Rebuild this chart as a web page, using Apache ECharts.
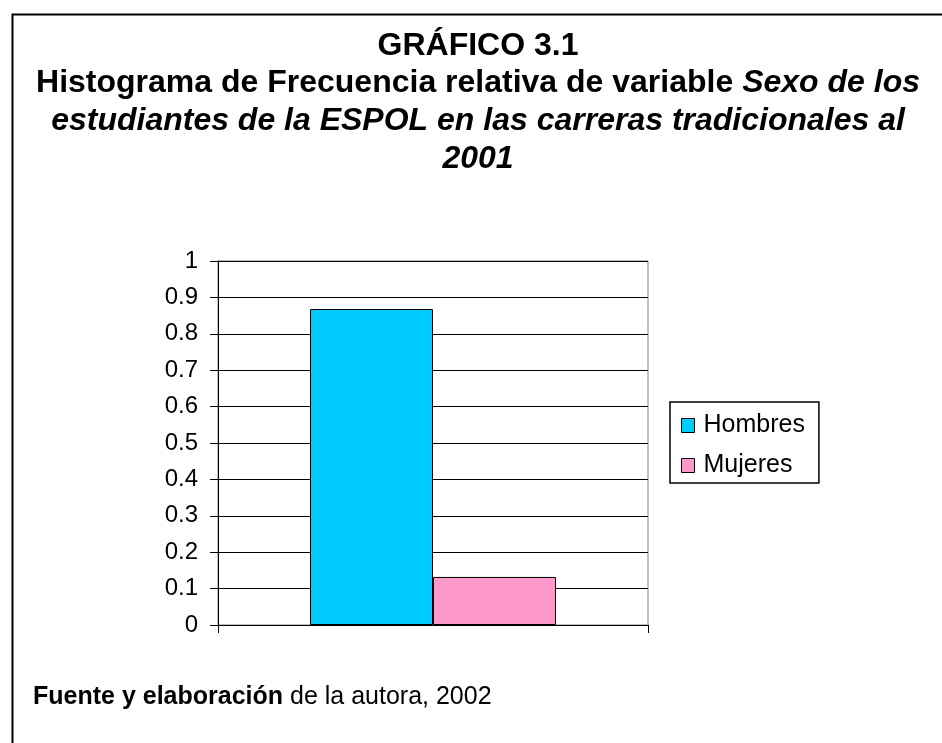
<!DOCTYPE html>
<html>
<head>
<meta charset="utf-8">
<script src="https://cdn.jsdelivr.net/npm/echarts@6/dist/echarts.min.js"></script>
<style>
html,body{margin:0;padding:0;background:#fff;}
#chart{width:942px;height:743px;}
</style>
</head>
<body>
<div id="chart"></div>
<script>
// Data
const categories = [''];
const seriesNames = ['Hombres', 'Mujeres'];
const hombres = [0.868];
const mujeres = [0.132];
const yTicks = { min: 0, max: 1, interval: 0.1 };

const FONT = '"Liberation Sans", Arial, sans-serif';
const chart = echarts.init(document.getElementById('chart'), null, { renderer: 'canvas' });

const TS = 32, TLH = 37.7;
const option = {
  backgroundColor: '#fff',
  animation: false,
  legend: {
    orient: 'vertical',
    left: 670,
    top: 402,
    data: seriesNames,
    backgroundColor: '#fff',
    borderColor: '#000',
    borderWidth: 1.5,
    borderRadius: 0,
    padding: [11, 14, 5, 11],
    itemWidth: 13,
    itemHeight: 14,
    itemGap: 15,
    icon: 'rect',
    itemStyle: { borderColor: '#000', borderWidth: 1 },
    textStyle: { fontFamily: FONT, fontSize: 25, color: '#000', padding: [0, 0, 0, 4] }
  },
  grid: {
    left: 218,
    right: 294,
    top: 261,
    bottom: 118,
    show: true,
    borderColor: '#808080',
    borderWidth: 1,
    backgroundColor: 'transparent'
  },
  xAxis: {
    type: 'category',
    data: categories,
    axisLine: { lineStyle: { color: '#000', width: 1 } },
    axisTick: { show: true, length: 8, lineStyle: { color: '#000' } },
    axisLabel: { show: false },
    splitLine: { show: false }
  },
  yAxis: {
    type: 'value',
    min: yTicks.min,
    max: yTicks.max,
    interval: yTicks.interval,
    axisLine: { show: true, lineStyle: { color: '#000', width: 1 } },
    axisTick: { show: true, length: 8, lineStyle: { color: '#000' } },
    axisLabel: {
      fontFamily: FONT, fontSize: 24, color: '#000', margin: 20,
      formatter: v => String(Math.round(v * 10) / 10)
    },
    splitLine: { show: true, lineStyle: { color: '#000', width: 1 } }
  },
  series: [
    {
      name: seriesNames[0],
      type: 'bar',
      data: hombres,
      barGap: '0%',
      barCategoryGap: '42.8%',
      itemStyle: { color: '#00CCFF', borderColor: '#000', borderWidth: 1 }
    },
    {
      name: seriesNames[1],
      type: 'bar',
      data: mujeres,
      barGap: '0%',
      barCategoryGap: '42.8%',
      itemStyle: { color: '#FF99CC', borderColor: '#000', borderWidth: 1 }
    }
  ],
  graphic: [
    {
      type: 'rect',
      left: 10, top: 12,
      shape: { width: 960, height: 760 },
      style: { fill: null, stroke: '#000', lineWidth: 2 },
      silent: true
    },
    {
      type: 'text',
      x: 478,
      y: 27,
      silent: true,
      style: {
        text: '{b|GRÁFICO 3.1}\n{b|Histograma de Frecuencia relativa de variable }{bi|Sexo de los}\n{bi|estudiantes de la ESPOL en las carreras tradicionales al}\n{bi|2001}',
        align: 'center',
        verticalAlign: 'top',
        rich: {
          b: { fontFamily: FONT, fontSize: TS, fontWeight: 'bold', lineHeight: TLH, fill: '#000' },
          bi: { fontFamily: FONT, fontSize: TS, fontWeight: 'bold', fontStyle: 'italic', lineHeight: TLH, fill: '#000' }
        }
      }
    },
    {
      type: 'text',
      left: 33,
      top: 685,
      silent: true,
      style: {
        text: '{b|Fuente y elaboración}{n| de la autora, 2002}',
        rich: {
          b: { fontFamily: FONT, fontSize: 25, fontWeight: 'bold', fill: '#000', lineHeight: 29 },
          n: { fontFamily: FONT, fontSize: 25, fill: '#000', lineHeight: 29 }
        }
      }
    }
  ]
};
chart.setOption(option);
</script>
</body>
</html>
